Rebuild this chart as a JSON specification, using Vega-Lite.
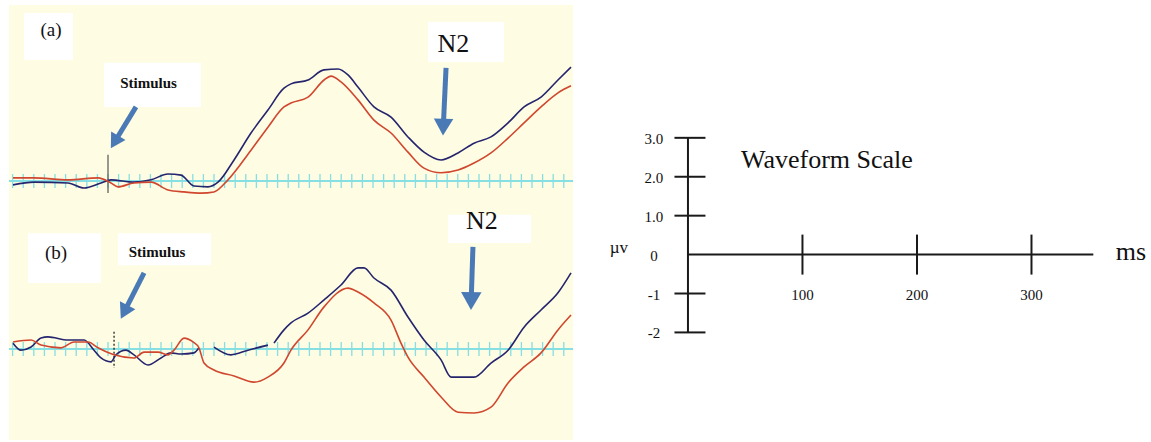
{
  "$schema": "https://vega.github.io/schema/vega-lite/v6.json",
  "padding": {"left": 8, "top": 5, "right": 0, "bottom": 2},
  "background": "white",
  "spacing": 28,
  "config": {"axis": {"disable": true}, "legend": {"disable": true}, "view": {"stroke": null}, "text": {"font": "Liberation Serif", "color": "#111"}},
  "datasets": {
    "wave": [
      {"p":"a","s":"blue","g":1,"t":-89.6,"v":-0.10},{"p":"a","s":"blue","g":1,"t":-69.8,"v":-0.03},{"p":"a","s":"blue","g":1,"t":-37.7,"v":-0.05},{"p":"a","s":"blue","g":1,"t":-22.6,"v":-0.18},{"p":"a","s":"blue","g":1,"t":-6.6,"v":-0.05},{"p":"a","s":"blue","g":1,"t":2.8,"v":0.03},{"p":"a","s":"blue","g":1,"t":24.5,"v":-0.03},{"p":"a","s":"blue","g":1,"t":40.6,"v":0.03},{"p":"a","s":"blue","g":1,"t":56.6,"v":0.18},{"p":"a","s":"blue","g":1,"t":68.9,"v":0.15},{"p":"a","s":"blue","g":1,"t":81.1,"v":-0.13},{"p":"a","s":"blue","g":1,"t":94.3,"v":-0.15},{"p":"a","s":"blue","g":1,"t":103.8,"v":-0.03},{"p":"a","s":"blue","g":1,"t":118.9,"v":0.54},{"p":"a","s":"blue","g":1,"t":134.9,"v":1.23},{"p":"a","s":"blue","g":1,"t":150.9,"v":1.82},{"p":"a","s":"blue","g":1,"t":166.0,"v":2.38},{"p":"a","s":"blue","g":1,"t":172.6,"v":2.49},{"p":"a","s":"blue","g":1,"t":188.7,"v":2.59},{"p":"a","s":"blue","g":1,"t":203.8,"v":2.85},{"p":"a","s":"blue","g":1,"t":217.0,"v":2.87},{"p":"a","s":"blue","g":1,"t":226.4,"v":2.72},{"p":"a","s":"blue","g":1,"t":235.8,"v":2.41},{"p":"a","s":"blue","g":1,"t":250.9,"v":1.90},{"p":"a","s":"blue","g":1,"t":267.0,"v":1.64},{"p":"a","s":"blue","g":1,"t":283.0,"v":1.13},{"p":"a","s":"blue","g":1,"t":298.1,"v":0.74},{"p":"a","s":"blue","g":1,"t":314.2,"v":0.54},{"p":"a","s":"blue","g":1,"t":330.2,"v":0.72},{"p":"a","s":"blue","g":1,"t":345.3,"v":0.97},{"p":"a","s":"blue","g":1,"t":361.3,"v":1.13},{"p":"a","s":"blue","g":1,"t":377.4,"v":1.49},{"p":"a","s":"blue","g":1,"t":392.5,"v":1.90},{"p":"a","s":"blue","g":1,"t":408.5,"v":2.15},{"p":"a","s":"blue","g":1,"t":424.5,"v":2.59},{"p":"a","s":"blue","g":1,"t":436.8,"v":2.92},
      {"p":"a","s":"red","g":1,"t":-89.6,"v":0.08},{"p":"a","s":"red","g":1,"t":-69.8,"v":0.08},{"p":"a","s":"red","g":1,"t":-37.7,"v":0.03},{"p":"a","s":"red","g":1,"t":-9.4,"v":0.08},{"p":"a","s":"red","g":1,"t":2.8,"v":-0.05},{"p":"a","s":"red","g":1,"t":9.4,"v":-0.15},{"p":"a","s":"red","g":1,"t":24.5,"v":-0.05},{"p":"a","s":"red","g":1,"t":40.6,"v":-0.03},{"p":"a","s":"red","g":1,"t":56.6,"v":-0.23},{"p":"a","s":"red","g":1,"t":71.7,"v":-0.28},{"p":"a","s":"red","g":1,"t":87.7,"v":-0.31},{"p":"a","s":"red","g":1,"t":100.0,"v":-0.28},{"p":"a","s":"red","g":1,"t":113.2,"v":0.03},{"p":"a","s":"red","g":1,"t":134.9,"v":0.79},{"p":"a","s":"red","g":1,"t":150.9,"v":1.38},{"p":"a","s":"red","g":1,"t":166.0,"v":1.90},{"p":"a","s":"red","g":1,"t":172.6,"v":2.00},{"p":"a","s":"red","g":1,"t":188.7,"v":2.15},{"p":"a","s":"red","g":1,"t":203.8,"v":2.59},{"p":"a","s":"red","g":1,"t":210.4,"v":2.69},{"p":"a","s":"red","g":1,"t":219.8,"v":2.54},{"p":"a","s":"red","g":1,"t":235.8,"v":2.08},{"p":"a","s":"red","g":1,"t":250.9,"v":1.56},{"p":"a","s":"red","g":1,"t":267.0,"v":1.23},{"p":"a","s":"red","g":1,"t":283.0,"v":0.74},{"p":"a","s":"red","g":1,"t":298.1,"v":0.33},{"p":"a","s":"red","g":1,"t":314.2,"v":0.21},{"p":"a","s":"red","g":1,"t":330.2,"v":0.28},{"p":"a","s":"red","g":1,"t":345.3,"v":0.46},{"p":"a","s":"red","g":1,"t":361.3,"v":0.72},{"p":"a","s":"red","g":1,"t":377.4,"v":1.10},{"p":"a","s":"red","g":1,"t":392.5,"v":1.49},{"p":"a","s":"red","g":1,"t":408.5,"v":1.90},{"p":"a","s":"red","g":1,"t":424.5,"v":2.26},{"p":"a","s":"red","g":1,"t":436.8,"v":2.44},
      {"p":"b","s":"blue","g":1,"t":-89.6,"v":0.15},{"p":"b","s":"blue","g":1,"t":-82.1,"v":-0.03},{"p":"b","s":"blue","g":1,"t":-72.6,"v":0.05},{"p":"b","s":"blue","g":1,"t":-63.2,"v":0.28},{"p":"b","s":"blue","g":1,"t":-56.6,"v":0.31},{"p":"b","s":"blue","g":1,"t":-37.7,"v":0.23},{"p":"b","s":"blue","g":1,"t":-22.6,"v":0.23},{"p":"b","s":"blue","g":1,"t":-13.2,"v":-0.03},{"p":"b","s":"blue","g":1,"t":-6.6,"v":-0.23},{"p":"b","s":"blue","g":1,"t":2.8,"v":-0.33},{"p":"b","s":"blue","g":1,"t":7.5,"v":-0.15},{"p":"b","s":"blue","g":1,"t":17.0,"v":-0.03},{"p":"b","s":"blue","g":1,"t":24.5,"v":-0.15},{"p":"b","s":"blue","g":1,"t":37.7,"v":-0.41},{"p":"b","s":"blue","g":1,"t":50.0,"v":-0.23},{"p":"b","s":"blue","g":1,"t":59.4,"v":-0.10},{"p":"b","s":"blue","g":1,"t":68.9,"v":-0.13},{"p":"b","s":"blue","g":1,"t":81.1,"v":-0.10},{"p":"b","s":"blue","g":1,"t":85.8,"v":0.03},
      {"p":"b","s":"blue","g":2,"t":100.0,"v":0.05},{"p":"b","s":"blue","g":2,"t":116.0,"v":-0.15},{"p":"b","s":"blue","g":2,"t":132.1,"v":-0.03},{"p":"b","s":"blue","g":2,"t":150.9,"v":0.10},
      {"p":"b","s":"blue","g":3,"t":156.6,"v":0.15},{"p":"b","s":"blue","g":3,"t":166.0,"v":0.49},{"p":"b","s":"blue","g":3,"t":172.6,"v":0.67},{"p":"b","s":"blue","g":3,"t":188.7,"v":0.92},{"p":"b","s":"blue","g":3,"t":203.8,"v":1.26},{"p":"b","s":"blue","g":3,"t":219.8,"v":1.64},{"p":"b","s":"blue","g":3,"t":235.8,"v":2.08},{"p":"b","s":"blue","g":3,"t":241.5,"v":2.08},{"p":"b","s":"blue","g":3,"t":250.9,"v":1.82},{"p":"b","s":"blue","g":3,"t":267.0,"v":1.51},{"p":"b","s":"blue","g":3,"t":283.0,"v":0.82},{"p":"b","s":"blue","g":3,"t":298.1,"v":0.23},{"p":"b","s":"blue","g":3,"t":314.2,"v":-0.28},{"p":"b","s":"blue","g":3,"t":323.6,"v":-0.72},{"p":"b","s":"blue","g":3,"t":345.3,"v":-0.72},{"p":"b","s":"blue","g":3,"t":361.3,"v":-0.36},{"p":"b","s":"blue","g":3,"t":377.4,"v":-0.03},{"p":"b","s":"blue","g":3,"t":392.5,"v":0.56},{"p":"b","s":"blue","g":3,"t":408.5,"v":1.00},{"p":"b","s":"blue","g":3,"t":424.5,"v":1.44},{"p":"b","s":"blue","g":3,"t":436.8,"v":1.95},
      {"p":"b","s":"red","g":1,"t":-89.6,"v":0.18},{"p":"b","s":"red","g":1,"t":-72.6,"v":0.23},{"p":"b","s":"red","g":1,"t":-63.2,"v":0.10},{"p":"b","s":"red","g":1,"t":-44.3,"v":0.03},{"p":"b","s":"red","g":1,"t":-32.1,"v":0.18},{"p":"b","s":"red","g":1,"t":-18.9,"v":0.18},{"p":"b","s":"red","g":1,"t":-9.4,"v":0.03},{"p":"b","s":"red","g":1,"t":5.7,"v":-0.15},{"p":"b","s":"red","g":1,"t":24.5,"v":-0.23},{"p":"b","s":"red","g":1,"t":34.0,"v":-0.08},{"p":"b","s":"red","g":1,"t":47.2,"v":-0.08},{"p":"b","s":"red","g":1,"t":56.6,"v":-0.15},{"p":"b","s":"red","g":1,"t":62.3,"v":-0.03},{"p":"b","s":"red","g":1,"t":71.7,"v":0.28},{"p":"b","s":"red","g":1,"t":80.2,"v":0.18},{"p":"b","s":"red","g":1,"t":85.8,"v":0.03},{"p":"b","s":"red","g":1,"t":90.6,"v":-0.36},{"p":"b","s":"red","g":1,"t":100.0,"v":-0.54},{"p":"b","s":"red","g":1,"t":118.9,"v":-0.69},{"p":"b","s":"red","g":1,"t":137.7,"v":-0.85},{"p":"b","s":"red","g":1,"t":150.9,"v":-0.72},{"p":"b","s":"red","g":1,"t":166.0,"v":-0.36},{"p":"b","s":"red","g":1,"t":172.6,"v":-0.03},{"p":"b","s":"red","g":1,"t":188.7,"v":0.49},{"p":"b","s":"red","g":1,"t":203.8,"v":1.08},{"p":"b","s":"red","g":1,"t":226.4,"v":1.56},{"p":"b","s":"red","g":1,"t":235.8,"v":1.46},{"p":"b","s":"red","g":1,"t":250.9,"v":1.18},{"p":"b","s":"red","g":1,"t":267.0,"v":0.74},{"p":"b","s":"red","g":1,"t":276.4,"v":0.15},{"p":"b","s":"red","g":1,"t":283.0,"v":-0.21},{"p":"b","s":"red","g":1,"t":298.1,"v":-0.72},{"p":"b","s":"red","g":1,"t":314.2,"v":-1.23},{"p":"b","s":"red","g":1,"t":330.2,"v":-1.62},{"p":"b","s":"red","g":1,"t":345.3,"v":-1.64},{"p":"b","s":"red","g":1,"t":361.3,"v":-1.49},{"p":"b","s":"red","g":1,"t":377.4,"v":-0.87},{"p":"b","s":"red","g":1,"t":392.5,"v":-0.46},{"p":"b","s":"red","g":1,"t":408.5,"v":-0.10},{"p":"b","s":"red","g":1,"t":424.5,"v":0.49},{"p":"b","s":"red","g":1,"t":436.8,"v":0.87}
    ],
    "gridtick": [{"t":-90,"v":0},{"t":-80,"v":0},{"t":-70,"v":0},{"t":-60,"v":0},{"t":-50,"v":0},{"t":-40,"v":0},{"t":-30,"v":0},{"t":-20,"v":0},{"t":-10,"v":0},{"t":0,"v":0},{"t":10,"v":0},{"t":20,"v":0},{"t":30,"v":0},{"t":40,"v":0},{"t":50,"v":0},{"t":60,"v":0},{"t":70,"v":0},{"t":80,"v":0},{"t":90,"v":0},{"t":100,"v":0},{"t":110,"v":0},{"t":120,"v":0},{"t":130,"v":0},{"t":140,"v":0},{"t":150,"v":0},{"t":160,"v":0},{"t":170,"v":0},{"t":180,"v":0},{"t":190,"v":0},{"t":200,"v":0},{"t":210,"v":0},{"t":220,"v":0},{"t":230,"v":0},{"t":240,"v":0},{"t":250,"v":0},{"t":260,"v":0},{"t":270,"v":0},{"t":280,"v":0},{"t":290,"v":0},{"t":300,"v":0},{"t":310,"v":0},{"t":320,"v":0},{"t":330,"v":0},{"t":340,"v":0},{"t":350,"v":0},{"t":360,"v":0},{"t":370,"v":0},{"t":380,"v":0},{"t":390,"v":0},{"t":400,"v":0},{"t":410,"v":0},{"t":420,"v":0},{"t":430,"v":0}],
    "base": [{"t":-93.4,"t2":438.7,"v":0}],
    "box": [
      {"p":"a","t":-79.2,"t2":-33.0,"v":4.31,"v2":3.10},{"p":"a","t":-3.8,"t2":87.7,"v":3.03,"v2":1.90},{"p":"a","t":301.9,"t2":373.6,"v":4.08,"v2":3.05},
      {"p":"b","t":-75.5,"t2":-6.6,"v":2.97,"v2":1.69},{"p":"b","t":9.4,"t2":97.2,"v":2.97,"v2":2.15},{"p":"b","t":320.8,"t2":399.1,"v":3.44,"v2":2.72}
    ],
    "stim": [{"p":"a","t":0,"v":0.67,"v2":-0.31},{"p":"b","t":5.7,"v":0.44,"v2":-0.49}],
    "arrow": [
      {"p":"a","n":"stim","t":26.4,"v":1.90,"t2":6.2,"v2":1.00},{"p":"a","n":"n2","t":318.9,"v":2.90,"t2":316.3,"v2":1.38},
      {"p":"b","n":"stim","t":34.0,"v":1.95,"t2":15.3,"v2":0.95},{"p":"b","n":"n2","t":344.3,"v":2.62,"t2":342.6,"v2":1.23}
    ],
    "label": [
      {"p":"a","k":"id","t":-53.8,"v":3.87,"text":"(a)"},{"p":"a","k":"stim","t":38.2,"v":2.51,"text":"Stimulus"},{"p":"a","k":"n2","t":325.9,"v":3.51,"text":"N2"},
      {"p":"b","k":"id","t":-49.1,"v":2.46,"text":"(b)"},{"p":"b","k":"stim","t":46.2,"v":2.49,"text":"Stimulus"},{"p":"b","k":"n2","t":352.8,"v":3.28,"text":"N2"}
    ],
    "axes": [{"t":0,"v":3,"t2":0,"v2":-2},{"t":0,"v":0,"t2":354,"v2":0}],
    "yticks": [{"t":0,"v":3,"label":"3.0"},{"t":0,"v":2,"label":"2.0"},{"t":0,"v":1,"label":"1.0"},{"t":0,"v":0,"label":"0"},{"t":0,"v":-1,"label":"-1"},{"t":0,"v":-2,"label":"-2"}],
    "xticks": [{"t":100,"v":0,"label":"100"},{"t":200,"v":0,"label":"200"},{"t":300,"v":0,"label":"300"}],
    "stext": [{"k":"u","t":-60.3,"v":0.17,"text":"µv"},{"k":"c","t":386.9,"v":0.07,"text":"ms"},{"k":"l","t":46.3,"v":2.22,"text":"Waveform Scale"}]
  },
  "hconcat": [
    {
      "spacing": 0,
      "bounds": "flush",
      "vconcat": [
        {
          "width": 564, "height": 210,
          "view": {"fill": "#fefce3", "stroke": null},
          "encoding": {
            "x": {"field": "t", "type": "quantitative", "scale": {"domain": [-93.4, 438.68], "nice": false, "zero": false}},
            "y": {"field": "v", "type": "quantitative", "scale": {"domain": [-0.8718, 4.5128], "nice": false, "zero": false}}
          },
          "layer": [
            {"data": {"name": "box"}, "transform": [{"filter": "datum.p == 'a'"}], "mark": {"type": "rect", "fill": "#ffffff"}, "encoding": {"x2": {"field": "t2"}, "y2": {"field": "v2"}}},
            {"data": {"name": "base"}, "mark": {"type": "rule", "color": "#86dfe2", "strokeWidth": 2}, "encoding": {"x2": {"field": "t2"}}},
            {"data": {"name": "gridtick"}, "mark": {"type": "tick", "orient": "vertical", "size": 14, "thickness": 1.3, "color": "#86dfe2", "opacity": 1}, "encoding": {}},
            {"data": {"name": "stim"}, "transform": [{"filter": "datum.p == 'a'"}], "mark": {"type": "rule", "color": "#555555", "strokeWidth": 1.2}, "encoding": {"y2": {"field": "v2"}}},
            {"data": {"name": "wave"}, "transform": [{"filter": "datum.p == 'a'"}], "mark": {"type": "line", "strokeWidth": 1.6, "interpolate": "monotone"}, "encoding": {"color": {"field": "s", "type": "nominal", "scale": {"domain": ["blue", "red"], "range": ["#25256e", "#d0472f"]}, "legend": null}, "detail": {"field": "g"}}},
            {"data": {"name": "arrow"}, "transform": [{"filter": "datum.p == 'a'"}], "mark": {"type": "rule", "color": "#4a7ab6", "strokeWidth": 5}, "encoding": {"x2": {"field": "t2"}, "y2": {"field": "v2"}}},
            {"data": {"name": "arrow"}, "transform": [{"filter": "datum.p == 'a' && datum.n == 'stim'"}], "mark": {"type": "point", "shape": "triangle-up", "filled": true, "opacity": 1, "size": 280, "angle": 211, "color": "#4a7ab6"}, "encoding": {"x": {"field": "t2", "type": "quantitative"}, "y": {"field": "v2", "type": "quantitative"}}},
            {"data": {"name": "arrow"}, "transform": [{"filter": "datum.p == 'a' && datum.n == 'n2'"}], "mark": {"type": "point", "shape": "triangle-up", "filled": true, "opacity": 1, "size": 380, "angle": 182, "color": "#4a7ab6"}, "encoding": {"x": {"field": "t2", "type": "quantitative"}, "y": {"field": "v2", "type": "quantitative"}}},
            {"data": {"name": "label"}, "transform": [{"filter": "datum.p == 'a' && datum.k == 'id'"}], "mark": {"type": "text", "fontSize": 19, "baseline": "middle"}, "encoding": {"text": {"field": "text"}}},
            {"data": {"name": "label"}, "transform": [{"filter": "datum.p == 'a' && datum.k == 'stim'"}], "mark": {"type": "text", "fontSize": 15, "fontWeight": "bold", "baseline": "middle"}, "encoding": {"text": {"field": "text"}}},
            {"data": {"name": "label"}, "transform": [{"filter": "datum.p == 'a' && datum.k == 'n2'"}], "mark": {"type": "text", "fontSize": 26, "baseline": "middle"}, "encoding": {"text": {"field": "text"}}}
          ]
        },
        {
          "width": 564, "height": 225,
          "view": {"fill": "#fefce3", "stroke": null},
          "encoding": {
            "x": {"field": "t", "type": "quantitative", "scale": {"domain": [-93.4, 438.68], "nice": false, "zero": false}},
            "y": {"field": "v", "type": "quantitative", "scale": {"domain": [-2.3333, 3.4359], "nice": false, "zero": false}}
          },
          "layer": [
            {"data": {"name": "box"}, "transform": [{"filter": "datum.p == 'b'"}], "mark": {"type": "rect", "fill": "#ffffff"}, "encoding": {"x2": {"field": "t2"}, "y2": {"field": "v2"}}},
            {"data": {"name": "base"}, "mark": {"type": "rule", "color": "#86dfe2", "strokeWidth": 2}, "encoding": {"x2": {"field": "t2"}}},
            {"data": {"name": "gridtick"}, "mark": {"type": "tick", "orient": "vertical", "size": 14, "thickness": 1.3, "color": "#86dfe2", "opacity": 1}, "encoding": {}},
            {"data": {"name": "stim"}, "transform": [{"filter": "datum.p == 'b'"}], "mark": {"type": "rule", "color": "#222222", "strokeWidth": 1.3, "strokeDash": [2, 2]}, "encoding": {"y2": {"field": "v2"}}},
            {"data": {"name": "wave"}, "transform": [{"filter": "datum.p == 'b'"}], "mark": {"type": "line", "strokeWidth": 1.6, "interpolate": "monotone"}, "encoding": {"color": {"field": "s", "type": "nominal", "scale": {"domain": ["blue", "red"], "range": ["#25256e", "#d0472f"]}, "legend": null}, "detail": {"field": "g"}}},
            {"data": {"name": "arrow"}, "transform": [{"filter": "datum.p == 'b'"}], "mark": {"type": "rule", "color": "#4a7ab6", "strokeWidth": 5}, "encoding": {"x2": {"field": "t2"}, "y2": {"field": "v2"}}},
            {"data": {"name": "arrow"}, "transform": [{"filter": "datum.p == 'b' && datum.n == 'stim'"}], "mark": {"type": "point", "shape": "triangle-up", "filled": true, "opacity": 1, "size": 300, "angle": 207, "color": "#4a7ab6"}, "encoding": {"x": {"field": "t2", "type": "quantitative"}, "y": {"field": "v2", "type": "quantitative"}}},
            {"data": {"name": "arrow"}, "transform": [{"filter": "datum.p == 'b' && datum.n == 'n2'"}], "mark": {"type": "point", "shape": "triangle-up", "filled": true, "opacity": 1, "size": 420, "angle": 181, "color": "#4a7ab6"}, "encoding": {"x": {"field": "t2", "type": "quantitative"}, "y": {"field": "v2", "type": "quantitative"}}},
            {"data": {"name": "label"}, "transform": [{"filter": "datum.p == 'b' && datum.k == 'id'"}], "mark": {"type": "text", "fontSize": 19, "baseline": "middle"}, "encoding": {"text": {"field": "text"}}},
            {"data": {"name": "label"}, "transform": [{"filter": "datum.p == 'b' && datum.k == 'stim'"}], "mark": {"type": "text", "fontSize": 15, "fontWeight": "bold", "baseline": "middle"}, "encoding": {"text": {"field": "text"}}},
            {"data": {"name": "label"}, "transform": [{"filter": "datum.p == 'b' && datum.k == 'n2'"}], "mark": {"type": "text", "fontSize": 26, "baseline": "middle"}, "encoding": {"text": {"field": "text"}}}
          ]
        }
      ]
    },
    {
      "width": 551, "height": 435,
      "encoding": {
        "x": {"field": "t", "type": "quantitative", "scale": {"domain": [-74.2, 407.0], "nice": false, "zero": false}},
        "y": {"field": "v", "type": "quantitative", "scale": {"domain": [-4.764, 6.413], "nice": false, "zero": false}}
      },
      "layer": [
        {"data": {"name": "axes"}, "mark": {"type": "rule", "color": "#1a1a1a", "strokeWidth": 2}, "encoding": {"x2": {"field": "t2"}, "y2": {"field": "v2"}}},
        {"data": {"name": "yticks"}, "transform": [{"filter": "datum.v != 0"}], "mark": {"type": "tick", "orient": "horizontal", "size": 31, "thickness": 2, "color": "#1a1a1a", "opacity": 1, "xOffset": 2}, "encoding": {}},
        {"data": {"name": "yticks"}, "mark": {"type": "text", "fontSize": 15, "baseline": "middle", "align": "center", "dx": -34, "dy": 1}, "encoding": {"text": {"field": "label"}}},
        {"data": {"name": "xticks"}, "mark": {"type": "tick", "orient": "vertical", "size": 40, "thickness": 2, "color": "#1a1a1a", "opacity": 1}, "encoding": {}},
        {"data": {"name": "xticks"}, "mark": {"type": "text", "fontSize": 15, "baseline": "middle", "align": "center", "dy": 40}, "encoding": {"text": {"field": "label"}}},
        {"data": {"name": "stext"}, "transform": [{"filter": "datum.k == 'u'"}], "mark": {"type": "text", "fontSize": 17, "baseline": "middle", "align": "center"}, "encoding": {"text": {"field": "text"}}},
        {"data": {"name": "stext"}, "transform": [{"filter": "datum.k == 'c'"}], "mark": {"type": "text", "fontSize": 26, "baseline": "middle", "align": "center"}, "encoding": {"text": {"field": "text"}}},
        {"data": {"name": "stext"}, "transform": [{"filter": "datum.k == 'l'"}], "mark": {"type": "text", "fontSize": 26, "baseline": "alphabetic", "align": "left"}, "encoding": {"text": {"field": "text"}}}
      ]
    }
  ]
}
